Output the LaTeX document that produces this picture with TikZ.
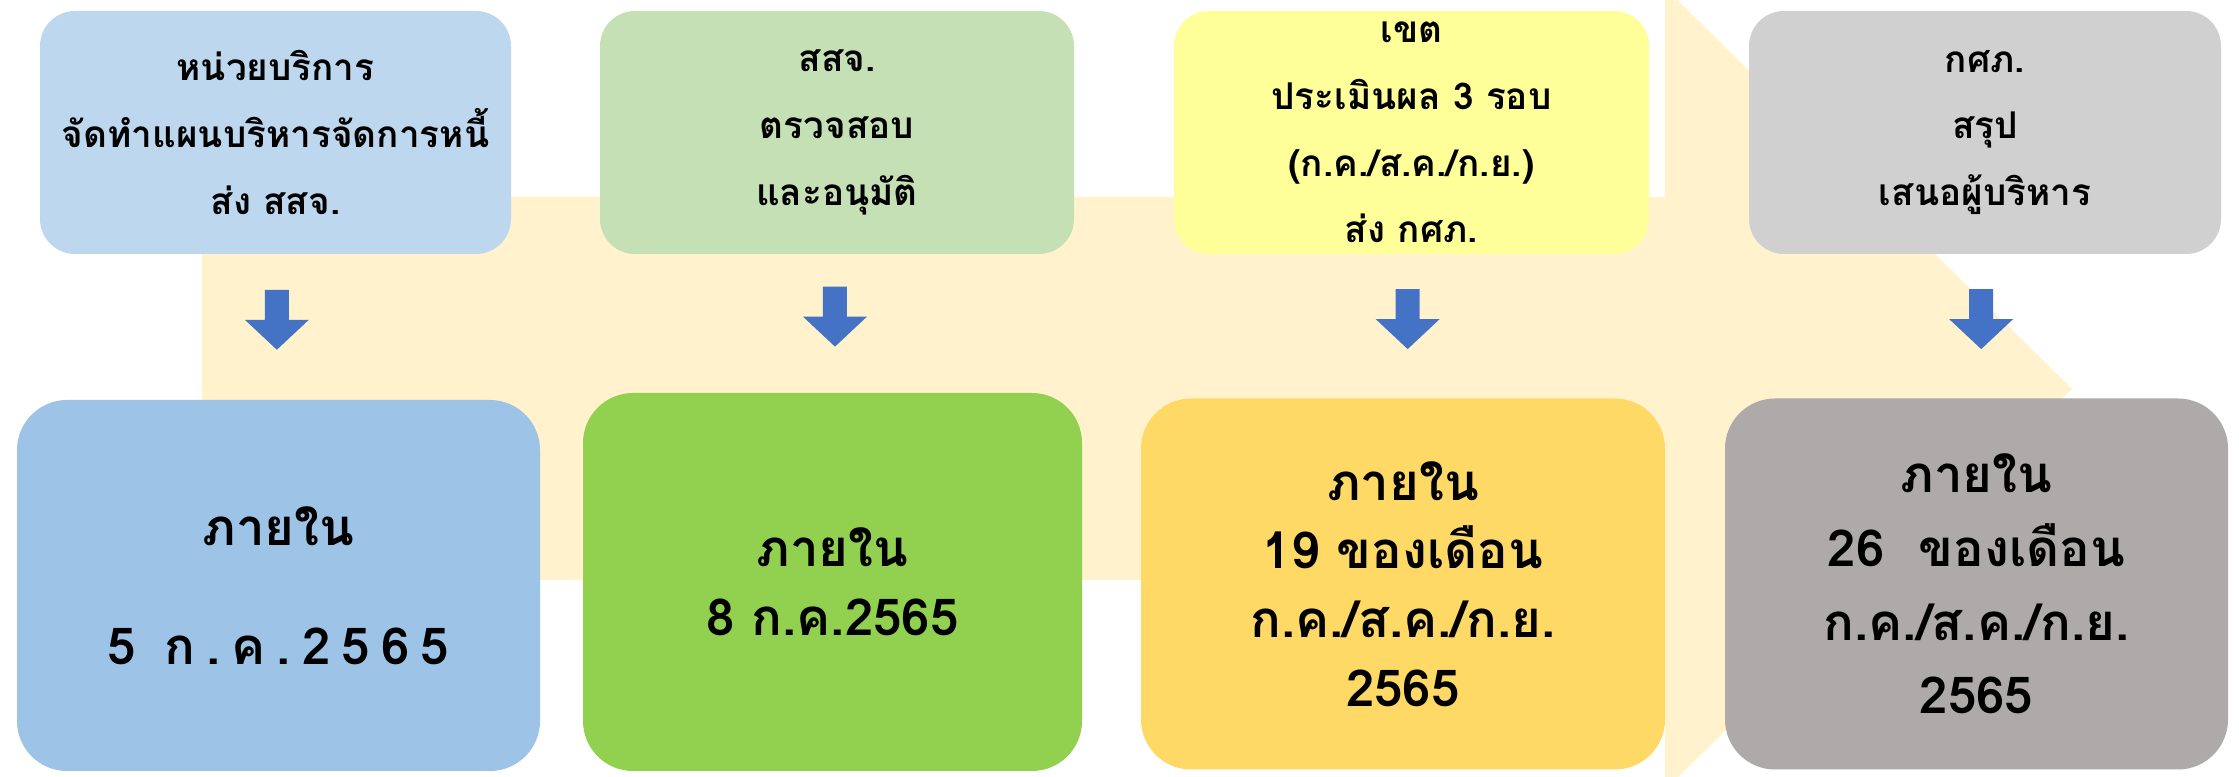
\documentclass[tikz,border=0pt]{standalone}
\usepackage{fontspec}
\setmainfont[Script=Thai]{Loma}
\usetikzlibrary{calc}

\definecolor{bandyellow}{HTML}{FFF2CC}
\definecolor{arrowblue}{HTML}{4472C4}
\definecolor{topblue}{HTML}{BDD7EE}
\definecolor{topgreen}{HTML}{C5E0B4}
\definecolor{topyellow}{HTML}{FFFF99}
\definecolor{topgray}{HTML}{D0D0D0}
\definecolor{dateblue}{HTML}{9DC3E6}
\definecolor{dategreen}{HTML}{92D050}
\definecolor{dateorange}{HTML}{FFD966}
\definecolor{dategray}{HTML}{AEAAAA}

% block arrow pointing down, centred on a coordinate
\newcommand{\downblock}[1]{%
  \fill[arrowblue, shift={(#1)}] (-0.12,-0.30) -- (0.12,-0.30) -- (0.12,0) -- (0.32,0)
    -- (0,0.30) -- (-0.32,0) -- (-0.12,0) -- cycle;}

\begin{document}
\begin{tikzpicture}[x=1cm, y=-1cm,
    topbox/.style={rounded corners=0.35cm, inner sep=0pt, minimum height=2.43cm,
      align=center, font=\bfseries\fontsize{10.5}{19}\selectfont},
    datebox/.style={rounded corners=0.5cm, inner sep=0pt, minimum height=3.71cm,
      align=center, font=\bfseries\fontsize{14.5}{19.5}\selectfont}]
        \useasboundingbox (0,0) rectangle (22.39,7.77);
        \fill[white] (0,0) rectangle (22.39,7.77);

        %background band
        \fill[bandyellow] (2.02,1.97) -- (16.65,1.97) -- (16.65,-0.12) -- (20.72,3.89)
          -- (16.65,7.90) -- (16.65,5.80) -- (2.02,5.80) -- cycle;

        %tasks
        \node[topbox, fill=topblue, minimum width=4.71cm] (unit) at (2.755, 1.325)
          {หน่วยบริการ\\จัดทำแผนบริหารจัดการหนี้\\ส่ง สสจ.};
        \node[topbox, fill=topgreen, minimum width=4.74cm] (ssj) at (8.37, 1.325)
          {สสจ.\\ตรวจสอบ\\และอนุมัติ};
        \node[topbox, fill=topyellow, minimum width=4.75cm] (zone) at (14.115, 1.325)
          {เขต\\ประเมินผล 3 รอบ\\(ก.ค./ส.ค./ก.ย.)\\ส่ง กศภ.};
        \node[topbox, fill=topgray, minimum width=4.72cm] (ksp) at (19.85, 1.325)
          {กศภ.\\สรุป\\เสนอผู้บริหาร};

        %deadlines
        \node[datebox, fill=dateblue, minimum width=5.23cm] (unitdate) at (2.785, 5.855)
          {ภายใน\\[0.5cm]{\addfontfeature{LetterSpace=22}5 ก.ค.2565}};
        \node[datebox, fill=dategreen, minimum width=4.99cm, minimum height=3.78cm] (ssjdate) at (8.325, 5.82)
          {ภายใน\\8 ก.ค.2565};
        \node[datebox, fill=dateorange, minimum width=5.24cm] (zonedate) at (14.03, 5.84)
          {ภายใน\\19 ของเดือน\\ก.ค./ส.ค./ก.ย.\\2565};
        \node[datebox, fill=dategray, minimum width=5.03cm, font=\bfseries\fontsize{14.5}{21}\selectfont] (kspdate) at (19.765, 5.84)
          {ภายใน\\26~~ของเดือน\\ก.ค./ส.ค./ก.ย.\\2565};

        %arrows
        \downblock{$(unit.south)!0.45!(unitdate.north)$}
        \downblock{$(ssj.south)!0.45!(ssjdate.north)$}
        \downblock{$(zone.south)!0.45!(zonedate.north)$}
        \downblock{$(ksp.south)!0.45!(kspdate.north)$}
    \end{tikzpicture}
\end{document}
